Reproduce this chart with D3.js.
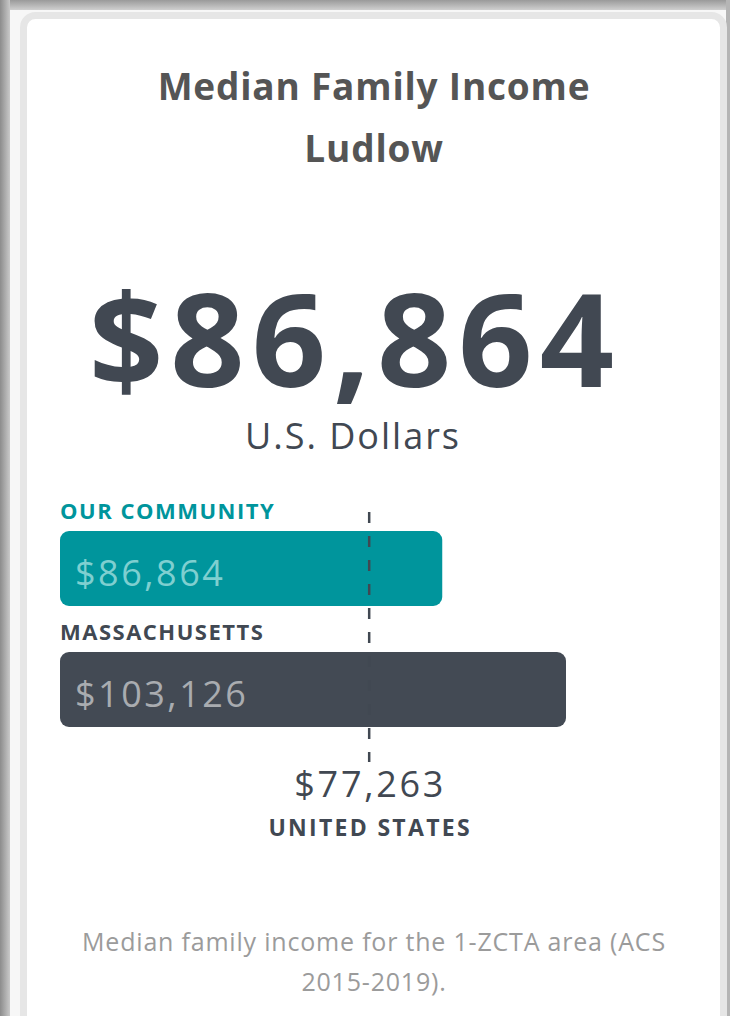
<!DOCTYPE html>
<html>
<head>
<meta charset="utf-8">
<script src="https://cdn.jsdelivr.net/npm/d3@7"></script>
<style>
  body { margin: 0; background: #fff; }
  svg { display: block; font-family: "Open Sans", "Lato", sans-serif; }
</style>
</head>
<body>
<div id="chart"></div>
<script>
const titleLines = ['Median Family Income', 'Ludlow'];
const headlineValue = 86864;
const unitLabel = 'U.S. Dollars';
const barLabels = ['OUR COMMUNITY', 'MASSACHUSETTS'];
const barValues = [86864, 103126];
const barColors = ['#00959c', '#434a54'];
const barTextColors = ['#7fcfd0', '#a9acb0'];
const labelColors = ['#00959c', '#414852'];
const refLabel = 'UNITED STATES';
const refValue = 77263;
const footnote = ['Median family income for the 1-ZCTA area (ACS', '2015-2019).'];

const W = 730, H = 1016;
const money = d3.format('$,');

const svg = d3.select('#chart').append('svg')
  .attr('width', W)
  .attr('height', H);

// window frame
const defs = svg.append('defs');
const gl = defs.append('linearGradient').attr('id', 'gl');
gl.append('stop').attr('offset', '0%').attr('stop-color', '#8c8c8c');
gl.append('stop').attr('offset', '100%').attr('stop-color', '#c9c9c9');
const gt = defs.append('linearGradient').attr('id', 'gt').attr('x2', 0).attr('y2', 1);
gt.append('stop').attr('offset', '0%').attr('stop-color', '#9a9a9a');
gt.append('stop').attr('offset', '100%').attr('stop-color', '#cfcfcf');

svg.append('rect').attr('width', W).attr('height', H).attr('fill', '#f7f7f7');
svg.append('rect').attr('width', W).attr('height', 10).attr('fill', 'url(#gt)');
svg.append('rect').attr('width', 10).attr('height', H).attr('fill', 'url(#gl)');
svg.append('rect').attr('x', 726).attr('width', 4).attr('height', H).attr('fill', '#b5b5b5');

svg.append('rect')
  .attr('x', 23.5).attr('y', 15.5)
  .attr('width', 700).attr('height', 1100)
  .attr('rx', 12)
  .attr('fill', '#fff')
  .attr('stroke', '#e6e6e6')
  .attr('stroke-width', 7);

// title
svg.append('g').selectAll('text')
  .data(titleLines)
  .enter().append('text')
  .attr('x', 374)
  .attr('y', (d, i) => 100 + i * 62)
  .attr('text-anchor', 'middle')
  .attr('font-size', '37px')
  .attr('font-weight', 700)
  .attr('letter-spacing', '0.8px')
  .attr('fill', '#555555')
  .text(d => d);

// headline number
svg.append('text')
  .attr('x', 355).attr('y', 387)
  .attr('text-anchor', 'middle')
  .attr('font-size', '130px')
  .attr('font-weight', 700)
  .attr('fill', '#414852')
  .attr('letter-spacing', '7px')
  .text(money(headlineValue));

svg.append('text')
  .attr('x', 353).attr('y', 449)
  .attr('text-anchor', 'middle')
  .attr('font-size', '36px')
  .attr('letter-spacing', '2px')
  .attr('fill', '#414852')
  .text(unitLabel);

// bars
const x = d3.scaleLinear()
  .domain([36634, d3.max(barValues)])
  .range([60, 566]);

const barH = 75;
const rowTop = [531, 652];

const rows = svg.append('g').selectAll('g')
  .data(barValues)
  .enter().append('g');

rows.append('text')
  .attr('x', 60)
  .attr('y', (d, i) => rowTop[i] - 12)
  .attr('font-size', '22px')
  .attr('font-weight', 700)
  .attr('letter-spacing', '1.5px')
  .attr('fill', (d, i) => labelColors[i])
  .text((d, i) => barLabels[i]);

rows.append('rect')
  .attr('x', x.range()[0])
  .attr('y', (d, i) => rowTop[i])
  .attr('width', d => x(d) - x.range()[0])
  .attr('height', barH)
  .attr('rx', 9)
  .attr('fill', (d, i) => barColors[i]);

rows.append('text')
  .attr('x', 75)
  .attr('y', (d, i) => rowTop[i] + 55)
  .attr('font-size', '36px')
  .attr('letter-spacing', '2.5px')
  .attr('fill', (d, i) => barTextColors[i])
  .text(d => money(d));

// reference line
svg.append('line')
  .attr('x1', x(refValue)).attr('x2', x(refValue))
  .attr('y1', 512).attr('y2', 762)
  .attr('stroke', '#414852')
  .attr('stroke-width', 2.5)
  .attr('stroke-dasharray', '11,13');

svg.append('text')
  .attr('x', x(refValue) + 1).attr('y', 797)
  .attr('text-anchor', 'middle')
  .attr('font-size', '36px')
  .attr('letter-spacing', '2.7px')
  .attr('fill', '#414852')
  .text(money(refValue));

svg.append('text')
  .attr('x', x(refValue) + 1).attr('y', 836)
  .attr('text-anchor', 'middle')
  .attr('font-size', '23px')
  .attr('font-weight', 700)
  .attr('letter-spacing', '2.3px')
  .attr('fill', '#414852')
  .text(refLabel);

// footnote
svg.append('g').selectAll('text')
  .data(footnote)
  .enter().append('text')
  .attr('x', 374)
  .attr('y', (d, i) => 951 + i * 40)
  .attr('text-anchor', 'middle')
  .attr('font-size', '25px')
  .attr('letter-spacing', '0.8px')
  .attr('fill', '#9b9b9b')
  .text(d => d);
</script>
</body>
</html>
